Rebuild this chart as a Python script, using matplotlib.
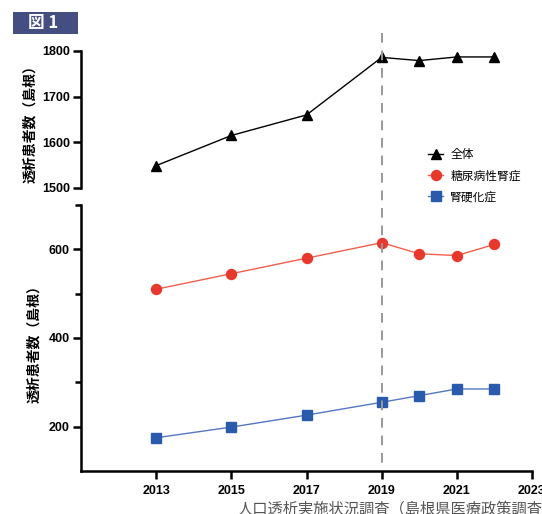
import matplotlib.pyplot as plt
from matplotlib.patches import Rectangle
from matplotlib.lines import Line2D
from matplotlib.ticker import FixedLocator
import matplotlib.transforms as mtransforms

plt.rcParams['font.family'] = ['Liberation Sans', 'Noto Sans CJK JP', 'DejaVu Sans']

# Data
years = [2013, 2015, 2017, 2019, 2020, 2021, 2022]
total = [1549, 1615, 1660, 1786, 1779, 1787, 1787]
diabetic = [510, 545, 580, 615, 590, 586, 611]
nephrosclerosis = [175, 199, 226, 255, 270, 285, 285]
series_labels = ['全体', '糖尿病性腎症', '腎硬化症']
ylabel = '透析患者数（島根）'
source = '人口透析実施状況調査（島根県医療政策調査）'

W, H = 542, 514
fig = plt.figure(figsize=(W / 100, H / 100), dpi=100)

def fx(px):
    return px / W

def fy(py):
    return 1 - py / H

ax_top = fig.add_axes([fx(81), fy(188), fx(532) - fx(81), fy(51) - fy(188)])
ax_bot = fig.add_axes([fx(81), fy(471), fx(532) - fx(81), fy(205) - fy(471)])

cjk = ['Noto Sans CJK JP', 'DejaVu Sans']
tick_font = dict(family='Liberation Sans', weight='bold', size=9)

l_total, = ax_top.plot(years, total, color='black', lw=1.0, marker='^',
                       markersize=7.5, markerfacecolor='black', markeredgecolor='black')
l_dm, = ax_bot.plot(years, diabetic, color='#f0604d', lw=1.0, marker='o',
                    markersize=7.2, markerfacecolor='#e8382c', markeredgecolor='#e8382c')
l_ns, = ax_bot.plot(years, nephrosclerosis, color='#5577c4', lw=1.0, marker='s',
                    markersize=7, markerfacecolor='#2a5aac', markeredgecolor='#2a5aac')

for ax in (ax_top, ax_bot):
    ax.set_xlim(2011, 2023)
    ax.patch.set_visible(False)
    ax.spines['top'].set_visible(False)
    ax.spines['right'].set_visible(False)
    ax.spines['left'].set_linewidth(1.8)
    ax.tick_params(axis='y', which='major', length=6, width=1.8, pad=2)
    ax.tick_params(axis='y', which='minor', length=4, width=1.8)

ax_top.set_ylim(1500, 1800)
ax_top.set_yticks([1500, 1600, 1700, 1800])
ax_top.spines['bottom'].set_visible(False)
ax_top.tick_params(axis='x', bottom=False, labelbottom=False)

ax_bot.set_ylim(100, 700)
ax_bot.set_yticks([200, 400, 600])
ax_bot.yaxis.set_minor_locator(FixedLocator([300, 500, 700]))
ax_bot.spines['bottom'].set_linewidth(1.8)
ax_bot.set_xticks([2013, 2015, 2017, 2019, 2021, 2023])
ax_bot.tick_params(axis='x', length=6, width=1.8, pad=4)

for ax in (ax_top, ax_bot):
    for lab in ax.get_yticklabels() + ax.get_xticklabels():
        lab.set(**tick_font)

ax_top.set_ylabel(ylabel, family=cjk, weight='bold', fontsize=10)
ax_top.yaxis.set_label_coords(-0.098, 0.49)
ax_bot.set_ylabel(ylabel, family=cjk, weight='bold', fontsize=10)
ax_bot.yaxis.set_label_coords(-0.088, 0.49)

# dashed marker at 2019 spanning both panels
trans = mtransforms.blended_transform_factory(ax_bot.transData, fig.transFigure)
fig.add_artist(Line2D([2019, 2019], [fy(33), fy(467)], transform=trans,
                      color='#999999', lw=1.4, ls=(0, (5, 4)), zorder=5))

fig.legend([l_total, l_dm, l_ns], series_labels, loc='upper left',
           bbox_to_anchor=(fx(422), fy(142)), frameon=False, borderpad=0,
           handlelength=1.3, handletextpad=0.6, labelspacing=0.7,
           prop=dict(family=cjk, size=8.5))

# figure badge
fig.add_artist(Rectangle((fx(13), fy(34)), fx(78) - fx(13), fy(12) - fy(34),
                         transform=fig.transFigure, facecolor='#454e80',
                         edgecolor='none'))
fig.text(fx(43), fy(23), '図 1', color='white', fontsize=12, ha='center',
         va='center', family=cjk, weight='bold')

fig.text(fx(238), fy(501), source, color='#555555', fontsize=11,
         ha='left', va='top', family=cjk)

fig.savefig('out.png', dpi=100)
